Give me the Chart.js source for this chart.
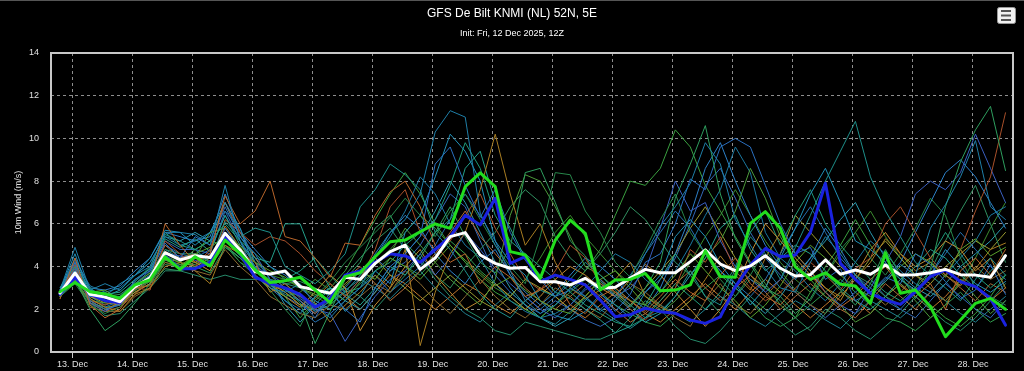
<!DOCTYPE html>
<html>
<head>
<meta charset="utf-8">
<title>GFS De Bilt KNMI (NL) 52N, 5E</title>
<script src="https://cdn.jsdelivr.net/npm/chart.js@4.4.1/dist/chart.umd.min.js"></script>
<style>
  html, body { margin: 0; padding: 0; background: #000; overflow: hidden; }
</style>
</head>
<body>
<canvas id="windChart" width="1024" height="371"></canvas>
<script>
'use strict'

//TEXTS
const titleText = 'GFS De Bilt KNMI (NL) 52N, 5E';
const subtitleText = 'Init: Fri, 12 Dec 2025, 12Z';
const yTitle = '10m Wind (m/s)';

//DAY TICKS (local midnight, 13 Dec .. 28 Dec)
const dayLabels = ['13. Dec', '14. Dec', '15. Dec', '16. Dec', '17. Dec', '18. Dec', '19. Dec', '20. Dec',
                   '21. Dec', '22. Dec', '23. Dec', '24. Dec', '25. Dec', '26. Dec', '27. Dec', '28. Dec'];

//MAIN RUNS, 6-hourly from 12 Dec 18Z
const meanWind = [2.76,3.7,2.7,2.57,2.35,3.06,3.48,4.65, 4.31,4.51,4.42,5.56,4.78,3.76,3.65,3.79,
                  3.06,2.9,2.75,3.5,3.4,4.15,4.7,5.0, 3.87,4.4,5.4,5.59,4.54,4.15,3.92,3.96,
                  3.29,3.29,3.14,3.45,2.98,3.03,3.46,3.87, 3.71,3.71,4.23,4.78,4.12,3.81,4.03,4.51,
                  3.92,3.56,3.62,4.31,3.64,3.84,3.64,4.07, 3.6,3.62,3.71,3.87,3.62,3.6,3.5,4.51];
const operWind = [2.82,3.25,2.82,2.72,2.51,3.14,3.37,4.46, 3.87,4.46,4.03,5.24,4.62,3.84,3.25,3.34,
                  3.5,2.9,2.31,3.53,3.71,4.46,5.16,5.24, 5.63,6.0,5.79,7.74,8.39,7.74,4.7,4.54,
                  3.45,5.24,6.18,5.56,2.9,3.37,3.4,3.68, 2.87,2.9,3.14,4.74,3.53,3.5,6.02,6.57,
                  5.79,3.99,3.4,3.71,3.17,3.09,2.28,4.65, 2.75,2.9,2.12,0.72,1.5,2.28,2.51,2.0];
const ctrlWind = [2.7,3.5,2.7,2.4,2.3,3.1,3.4,4.5, 3.9,3.9,4.2,5.4,4.6,3.5,3.2,3.0,
                  2.7,2.1,2.5,3.6,3.8,4.2,4.6,4.5, 4.2,4.8,5.4,6.4,5.95,7.2,4.15,4.46,
                  3.29,3.6,3.4,3.14,2.43,1.65,1.75,2.05, 1.89,1.81,1.5,1.34,1.65,3.06,4.07,4.85,
                  4.46,4.54,5.6,7.9,4.15,3.4,2.75,2.43, 2.23,2.82,3.53,3.84,3.29,3.06,2.51,1.26];

//ENSEMBLE MEMBERS
const m01 = [2.9,4.9,2.9,3.2,2.9,3.6,4.0,5.6, 5.6,5.5,5.0,7.8,5.2,4.0,3.0,2.8, 3.2,2.2,1.6,2.4,3.0,4.4,5.6,6.2, 7.4,10.3,11.3,11.0,6.5,5.0,3.8,2.4,
             1.8,2.2,3.0,2.6,1.9,2.4,3.2,4.6, 5.9,6.8,7.9,9.8,8.8,6.2,5.0,3.9, 3.0,2.8,4.2,5.4,4.6,3.6,2.8,3.3, 4.1,3.6,5.8,6.9,8.2,9.9,6.8,6.2];
const m02 = [2.6,3.4,2.0,1.0,1.5,2.3,3.2,3.9, 3.8,4.0,3.7,4.9,4.4,3.8,3.3,3.0, 2.3,0.4,1.9,3.4,4.2,5.8,6.4,5.1, 4.4,5.6,6.8,5.4,4.2,3.7,4.9,8.4,
             8.6,7.0,5.2,4.5,3.3,2.7,2.1,3.0, 4.2,7.2,8.8,10.6,7.4,5.3,4.1,3.0, 2.6,1.8,2.5,3.7,2.9,2.2,3.2,4.8, 3.6,2.5,3.9,6.8,8.9,10.4,11.5,8.5];
const m03 = [2.5,4.4,2.2,1.6,2.0,3.0,3.1,6.0, 5.0,4.2,4.6,7.3,6.0,6.6,8.0,5.4, 5.2,4.4,3.5,5.1,5.0,6.4,7.5,8.0, 6.8,5.0,4.2,4.6,3.2,4.0,3.5,2.6,
             2.9,3.4,2.2,1.8,2.6,3.0,2.4,1.9, 2.6,3.4,2.8,2.4,3.6,4.4,3.2,2.6, 2.2,3.0,3.6,2.8,2.1,2.6,3.4,4.0, 3.1,2.6,3.2,2.0,3.8,4.4,3.6,4.8];
const m04 = [2.8,4.2,2.4,2.0,2.2,3.4,3.8,5.1, 4.4,5.4,5.0,6.8,5.4,4.6,3.4,2.9, 2.4,1.6,2.8,2.0,1.4,3.0,4.0,4.6, 5.4,8.8,9.6,7.8,6.3,7.6,5.6,4.3,
             3.4,2.6,2.9,3.5,2.8,1.9,2.7,4.2, 4.6,6.0,8.1,7.6,9.6,10.0,9.6,7.8, 6.0,4.6,4.9,3.4,3.9,2.4,2.8,3.5, 3.2,4.6,4.1,3.3,2.5,2.9,4.1,2.7];
const m05 = [3.0,4.0,3.0,2.5,2.6,3.2,3.6,5.5, 5.2,4.8,4.2,6.1,5.4,5.8,5.6,4.0, 3.6,3.2,3.8,4.6,6.8,7.6,8.8,8.3, 7.6,5.6,4.8,3.8,2.7,2.0,1.6,2.4,
             2.9,2.6,3.4,4.2,3.6,2.9,2.2,1.6, 1.9,2.6,3.8,2.6,2.2,3.9,5.4,4.6, 3.4,4.9,6.4,8.0,9.4,10.8,8.2,6.6, 5.4,4.2,3.6,3.0,2.4,3.4,4.4,3.6];
const m06 = [2.7,3.6,2.8,2.9,2.4,3.2,3.7,4.4, 4.0,4.6,4.9,5.4,5.0,4.2,3.8,3.5, 3.0,2.7,2.4,3.1,3.8,3.4,4.4,4.0, 3.4,4.2,5.0,4.3,3.7,3.1,3.5,2.9,
             2.4,2.0,1.8,2.6,3.4,3.8,3.0,2.2, 2.8,3.6,4.6,3.8,3.0,2.4,1.6,2.2, 3.1,4.2,5.0,4.4,3.6,3.0,2.6,3.3, 4.0,4.6,4.2,3.5,4.8,5.3,4.5,4.9];
const m07 = [2.6,3.5,2.5,2.1,1.9,2.7,3.0,4.0, 4.2,3.8,3.2,5.0,4.6,4.2,2.8,3.2, 2.6,2.3,1.4,2.2,2.8,3.6,3.0,4.8, 0.3,2.8,4.6,5.6,7.6,10.2,7.4,5.0,
             6.0,4.2,3.0,2.5,2.9,3.4,4.2,2.6, 2.1,1.8,2.4,3.4,4.5,3.6,2.9,4.4, 5.6,4.6,3.8,3.0,2.6,3.4,4.2,5.3, 4.6,3.8,4.2,3.6,3.1,3.9,4.8,5.1];
const m08 = [2.9,4.6,2.6,2.6,3.2,3.6,4.4,5.7, 5.6,5.0,5.6,7.0,5.8,3.8,3.2,2.4, 1.8,2.6,3.0,1.9,2.6,3.8,3.2,5.6, 6.4,8.2,10.2,9.4,8.0,5.2,4.2,3.6,
             2.4,1.7,1.5,1.9,2.7,2.2,1.6,2.8, 3.6,5.4,6.2,5.4,4.1,3.2,2.2,3.0, 4.4,5.8,7.4,8.6,7.0,5.2,4.8,4.2, 3.4,2.9,3.6,4.8,4.0,3.2,2.8,3.3];
const m09 = [2.6,3.2,2.2,1.8,2.1,2.9,3.3,4.1, 4.0,3.9,4.3,5.0,4.2,3.6,2.9,2.0, 1.2,2.6,3.3,4.2,4.9,5.6,6.3,7.2, 6.4,5.4,6.6,7.4,6.2,5.0,4.0,3.2,
             5.4,8.4,8.3,6.6,5.6,4.2,3.5,4.8, 6.2,7.4,5.6,4.6,3.4,2.6,3.6,4.8, 3.8,2.9,2.4,3.6,4.8,5.6,4.4,3.6, 4.6,5.8,7.2,6.4,4.4,3.0,2.6,2.2];
const m10 = [2.5,4.1,2.4,2.2,2.5,3.0,2.9,5.2, 4.6,4.0,4.8,7.0,5.6,5.0,5.4,5.2, 4.6,3.8,3.2,2.6,3.4,4.8,6.8,7.6, 5.6,4.8,5.2,6.4,7.4,5.8,4.6,3.4,
             2.9,3.8,5.0,4.4,3.2,2.8,2.0,1.5, 2.2,3.0,4.8,4.2,5.4,3.8,3.0,2.4, 2.8,3.5,4.2,3.6,2.9,3.9,4.4,6.0, 6.8,5.6,4.4,3.6,4.8,6.6,8.2,11.2];
const m11 = [2.7,3.9,2.3,1.9,2.3,3.0,3.6,4.6, 4.5,4.3,4.0,5.8,4.8,4.0,3.6,3.2, 2.5,2.0,1.8,0.5,1.6,2.6,3.4,3.8, 4.6,3.6,4.4,5.6,4.8,3.9,3.2,2.6,
             2.0,1.6,2.2,2.9,3.4,2.6,3.0,3.8, 5.8,8.0,6.6,7.0,5.2,4.0,3.4,2.8, 3.4,4.6,3.8,2.8,2.2,1.8,3.0,4.2, 5.4,7.4,8.0,7.6,8.4,10.2,8.6,7.0];
const m12 = [2.8,3.8,2.9,2.7,2.8,3.4,3.9,5.3, 4.9,5.3,4.7,6.4,5.0,4.4,4.2,6.0, 6.0,4.2,3.0,2.7,2.2,3.0,4.0,3.6, 4.6,5.6,6.2,8.6,9.4,7.0,5.8,4.4,
             3.6,2.8,2.5,2.0,1.5,0.9,1.2,2.2, 3.4,4.6,3.6,4.4,5.8,6.4,4.8,3.8, 4.4,5.0,4.6,3.8,3.0,2.4,2.0,2.6, 3.4,4.0,4.8,4.4,3.6,3.0,3.8,4.4];
const m13 = [2.6,3.3,2.4,2.3,2.6,3.1,3.4,4.3, 4.1,4.4,5.6,5.8,4.9,3.9,3.2,2.6, 2.8,3.4,2.9,2.4,3.3,4.1,4.6,5.8, 5.0,4.2,3.4,2.8,2.2,3.4,6.4,8.3,
             8.0,6.8,5.4,4.0,3.6,3.0,2.4,2.2, 1.8,2.4,3.2,4.4,5.2,6.6,8.6,7.2, 5.4,4.2,3.4,2.6,2.2,1.4,1.8,2.6, 3.2,2.4,1.6,2.2,3.4,2.6,1.8,2.4];
const m14 = [2.7,3.7,2.6,2.4,2.2,2.8,3.2,4.6, 4.4,4.2,3.8,5.4,4.8,3.6,3.0,2.6, 2.1,2.8,3.6,3.0,1.0,2.2,3.0,4.0, 4.8,3.6,2.8,2.0,2.4,3.2,2.6,2.0,
             2.6,3.4,4.0,3.6,3.0,2.6,3.4,4.1, 3.6,2.8,2.0,1.2,2.0,3.0,4.6,6.0, 5.2,4.4,3.6,3.0,2.4,3.6,4.8,5.6, 4.6,4.0,4.4,5.2,4.8,3.8,4.4,3.0];
const m15 = [3.0,4.3,3.1,2.8,3.0,3.6,4.2,5.4, 5.0,5.2,5.6,6.6,5.8,4.2,3.6,3.0, 2.6,1.9,2.4,2.8,3.6,4.4,5.4,6.6, 8.2,7.4,6.0,5.0,4.4,3.2,2.4,1.9,
             1.6,1.8,2.2,3.0,3.8,4.6,4.2,3.4, 2.8,3.8,5.0,6.4,7.6,9.6,8.4,5.6, 4.4,3.8,3.0,2.4,3.2,4.2,5.2,4.6, 3.8,3.2,2.8,3.6,4.4,5.2,6.4,6.8];
const m16 = [2.7,3.6,2.7,2.6,2.7,3.2,3.7,4.8, 4.6,4.6,4.2,5.0,4.4,3.8,3.4,3.2, 3.3,3.0,2.6,3.6,4.4,5.2,5.8,4.8, 4.2,3.6,3.0,4.0,4.8,5.6,6.8,7.6,
             7.0,5.4,4.4,3.8,4.6,5.6,6.8,6.2, 5.2,4.2,3.6,2.6,1.8,2.6,3.4,3.0, 2.4,1.6,1.0,1.8,2.8,3.6,3.2,2.6, 2.2,3.0,3.8,5.2,6.6,7.8,6.0,4.2];
const m17 = [2.6,3.4,2.1,1.9,1.9,2.6,3.0,4.2, 4.0,3.8,3.6,4.8,4.0,3.4,2.6,2.2, 1.8,1.6,2.2,2.0,2.6,3.2,2.8,3.8, 3.2,2.4,1.8,2.6,3.4,2.6,2.0,1.6,
             2.2,3.0,2.6,2.0,1.6,2.4,3.2,2.8, 2.2,1.6,1.2,2.4,3.2,2.2,1.8,2.6, 3.4,2.8,2.2,1.8,2.6,3.4,2.8,2.2, 2.8,3.6,3.0,2.4,3.2,4.0,3.4,3.8];
const m18 = [2.8,4.4,3.0,2.9,3.1,3.8,4.4,5.6, 5.4,5.2,5.4,7.4,5.6,4.8,4.0,3.6, 3.0,2.4,2.0,2.6,3.4,4.6,5.6,6.4, 5.8,4.6,3.8,3.2,4.2,4.8,3.6,2.8,
             2.2,2.8,3.6,4.4,4.0,3.4,2.6,2.0, 3.0,4.6,6.4,8.6,9.8,8.0,6.4,5.0, 4.0,3.4,4.4,5.8,4.8,3.6,2.8,3.4, 4.2,5.6,7.0,8.4,9.0,8.2,7.0,5.8];
const m19 = [2.9,4.0,2.8,2.4,2.5,3.3,4.0,5.6, 5.0,4.8,5.2,6.0,5.2,4.6,4.0,3.4, 3.8,4.4,3.6,2.8,3.0,3.8,4.2,5.0, 5.6,6.2,7.8,9.8,8.6,6.4,5.2,4.6,
             4.0,3.4,2.8,2.2,1.8,1.4,1.2,1.6, 2.4,3.2,2.6,2.0,2.8,4.0,5.6,6.6, 5.0,6.4,7.6,6.0,5.0,4.2,3.4,2.8, 2.4,3.0,4.4,5.6,4.6,3.6,3.0,3.6];
const m20 = [2.6,3.5,2.6,2.8,2.4,3.0,3.5,4.5, 4.2,4.8,5.2,5.0,4.4,3.6,3.0,2.6, 1.6,2.4,3.0,3.8,5.0,6.2,7.4,8.4, 7.4,6.0,5.0,4.2,3.4,2.8,2.4,2.0,
             1.6,2.2,3.0,3.8,4.8,6.4,8.0,7.8, 8.6,10.4,9.6,7.8,6.6,5.4,4.2,3.2, 2.2,1.6,2.8,4.0,5.0,6.2,5.0,4.0, 3.4,2.8,2.2,1.6,1.2,1.8,2.6,3.6];
const m21 = [2.6,4.0,2.3,1.9,2.1,2.7,3.4,5.0, 4.4,4.6,4.0,6.2,5.6,4.4,3.6,3.0, 2.4,1.8,2.6,3.4,4.0,3.2,2.4,3.0, 3.8,4.6,5.6,6.6,5.4,4.6,3.8,3.0,
             2.4,2.0,2.6,3.2,2.6,2.0,1.4,1.8, 2.4,3.2,3.8,3.0,2.4,3.0,3.6,2.8, 2.0,2.6,3.2,2.6,2.0,1.6,2.4,3.2, 2.6,2.0,2.8,3.6,3.0,2.4,3.2,2.8];
const m22 = [2.8,4.0,2.5,2.1,2.4,3.2,3.8,5.0, 4.6,4.4,4.8,6.4,5.2,3.6,3.0,2.4, 2.0,1.4,1.8,2.4,3.0,3.6,2.8,3.4, 4.0,5.0,6.2,7.4,6.4,5.2,3.6,2.6,
             2.0,2.6,3.2,2.6,2.0,2.6,3.6,4.6, 5.6,6.6,5.8,4.6,3.8,3.2,2.6,3.4, 4.6,5.8,6.8,5.6,4.4,3.6,3.0,2.4, 2.0,2.8,3.6,4.6,5.6,4.8,4.0,3.4];
const m23 = [2.7,3.5,2.3,1.7,1.8,2.4,3.0,3.8, 3.8,3.6,3.4,3.6,3.4,3.4,3.4,3.2, 3.0,2.9,2.8,3.0,2.6,2.0,2.8,3.6, 4.4,3.4,2.6,2.0,1.6,1.0,0.8,1.4,
             1.2,1.0,0.8,0.6,0.6,0.9,1.6,2.4, 2.0,1.2,0.6,0.4,1.0,1.8,2.6,2.0, 1.4,0.8,1.2,2.0,1.6,1.0,0.6,1.2, 1.8,2.6,2.0,1.4,1.0,1.6,2.4,3.2];
const m24 = [2.7,3.6,2.6,2.3,2.2,2.9,3.3,4.4, 4.2,4.0,4.4,5.2,4.6,3.8,3.2,2.8, 2.2,2.0,2.6,3.2,3.8,4.4,3.6,3.0, 2.4,3.0,3.6,3.0,2.4,2.0,2.6,3.4,
             3.0,2.6,2.0,2.6,3.4,2.8,2.2,3.0, 3.8,4.6,5.8,6.8,5.6,4.4,3.6,3.0, 4.6,6.4,5.6,4.8,4.0,3.4,4.4,5.2, 4.4,3.6,3.2,4.0,4.6,5.2,4.8,5.6];
const m25 = [2.9,4.2,2.9,2.6,2.9,3.6,4.2,5.4, 5.2,5.6,5.2,7.0,5.4,4.4,3.4,2.2, 1.4,2.2,3.0,2.4,2.0,2.8,3.8,4.6, 5.4,6.6,8.0,7.0,5.6,4.2,3.0,2.2,
             1.6,1.2,1.6,2.4,3.2,2.6,2.0,1.4, 1.8,2.6,3.6,4.6,3.8,3.0,2.4,1.8, 2.6,3.6,4.4,5.2,6.2,7.0,5.6,4.4, 3.6,3.0,2.6,3.2,4.0,4.6,5.2,6.0];
const m26 = [2.6,3.4,2.3,2.0,2.2,2.8,3.2,4.2, 4.0,4.2,4.0,5.0,4.2,3.8,3.6,3.4, 3.0,2.6,2.2,2.8,3.6,4.2,4.8,5.6, 6.4,5.8,5.0,4.2,3.6,3.0,2.6,3.4,
             4.4,5.6,6.4,5.4,4.6,3.8,3.2,2.6, 2.2,3.0,4.2,5.4,6.4,7.6,6.4,5.2, 4.2,3.4,2.8,3.6,4.6,5.6,6.6,5.4, 4.4,3.6,3.0,2.4,3.2,4.4,5.8,7.0];
const m27 = [2.8,3.8,2.6,2.2,2.4,3.0,3.5,4.8, 4.4,4.6,4.4,5.6,4.6,3.9,3.1,2.7, 2.4,1.9,2.2,2.9,3.4,3.0,2.5,3.2, 3.8,3.0,2.4,1.8,1.4,2.2,2.8,2.2,
             1.6,1.3,1.9,2.5,2.0,1.5,1.1,1.6, 2.2,1.8,1.4,2.0,2.6,2.2,1.6,1.2, 1.8,2.4,2.0,1.5,1.1,1.8,2.4,2.0, 1.6,2.2,2.8,2.4,1.8,1.4,2.0,2.6];
const m28 = [2.7,3.9,2.4,2.0,2.3,2.9,3.4,4.7, 4.3,4.4,4.1,5.9,4.9,4.0,3.3,2.8, 2.2,2.5,3.2,2.6,2.0,2.8,3.6,3.2, 2.6,2.0,2.6,3.2,2.8,2.2,1.8,2.4,
             3.0,2.6,2.0,1.6,2.2,2.8,2.4,1.8, 1.4,2.0,2.6,3.2,2.6,2.0,2.8,3.4, 2.8,2.2,1.6,2.2,2.8,2.4,1.8,2.6, 3.2,2.6,2.0,2.6,3.4,3.0,2.4,3.0];
const m29 = [2.8,4.1,2.7,2.4,2.6,3.3,3.9,5.2, 4.8,4.8,4.6,6.6,5.2,4.2,3.2,2.6, 2.2,1.8,2.4,3.0,3.8,4.4,3.8,4.2, 5.0,6.2,7.4,6.8,5.2,3.6,2.8,2.2,
             1.8,2.4,2.0,1.5,1.2,1.6,2.2,2.8, 3.4,4.4,6.0,7.8,8.6,7.2,5.6,4.4, 3.6,2.8,2.2,1.6,2.2,2.8,3.4,2.6, 2.0,1.6,2.4,3.2,2.6,2.0,1.6,2.4];
const m30 = [2.6,3.3,2.3,2.1,2.2,2.8,3.2,4.3, 4.1,4.1,4.5,5.2,4.5,3.9,3.3,2.9, 2.6,2.2,2.0,2.6,3.2,3.8,4.4,4.0, 3.6,4.4,5.2,4.6,3.8,3.2,2.6,2.0,
             1.6,2.2,2.8,3.4,2.8,2.2,1.8,1.4, 1.2,1.8,2.4,3.0,3.6,3.0,2.4,1.6, 1.2,1.6,2.2,2.8,3.4,2.8,2.2,1.6, 1.4,1.0,1.6,2.2,2.8,2.0,1.4,1.8];

const members = [m01, m02, m03, m04, m05, m06, m07, m08, m09, m10, m11, m12, m13, m14, m15,
                 m16, m17, m18, m19, m20, m21, m22, m23, m24, m25, m26, m27, m28, m29, m30];
const memberColors = ['#1f7fa8', '#2e9e5e', '#b8652a', '#2a6fbf', '#1e8f8a', '#5aa02c', '#a87d22',
                      '#2090b8', '#27864a', '#a8502a', '#3a5fc0', '#23a08c', '#4c9a3a', '#c08a30',
                      '#1b78a0', '#309060', '#8a6a30', '#2d80c8', '#1f9a7a', '#3aa040', '#b06a38',
                      '#2470b0', '#268a6a', '#9a9a30', '#2a9ab0', '#3c8c30', '#20808f', '#c0782c',
                      '#3368b8', '#2f9a4c'];

//x is hours since init (12 Dec 12Z), first value at +6h
function toPoints(values){
  return values.map(function(v, i){ return {x: (i + 1) * 6, y: v}; });
}

//day ticks sit at local midnight = 23Z, i.e. +11h, +35h ...
const dayTicks = dayLabels.map(function(lbl, k){ return 11 + 24 * k; });

//BUILD DATASETS
let datasets = [];
datasets.push({ label: 'GFS', data: toPoints(operWind), borderColor: '#22dd1e', borderWidth: 3, order: 0 });
datasets.push({ label: 'Mean', data: toPoints(meanWind), borderColor: '#ffffff', borderWidth: 3, order: 1 });
datasets.push({ label: 'Control', data: toPoints(ctrlWind), borderColor: '#1a22e0', borderWidth: 3, order: 2 });
members.forEach(function(m, i){
  datasets.push({ label: 'P' + (i + 1), data: toPoints(m), borderColor: memberColors[i], borderWidth: 1, order: 3 });
});

const fontFam = "'Liberation Sans', Arial, sans-serif";
const gridCol = 'rgba(190,190,190,0.75)';

//title, frame and menu button
const decorPlugin = {
  id: 'decor',
  afterDatasetsDraw: function(chart){
    const ctx = chart.ctx;
    const a = chart.chartArea;
    ctx.save();
    ctx.strokeStyle = '#c8c8c8';
    ctx.lineWidth = 2;
    ctx.strokeRect(a.left, a.top, a.right - a.left, a.bottom - a.top);
    ctx.restore();
  },
  afterDraw: function(chart){
    const ctx = chart.ctx;
    ctx.save();
    ctx.fillStyle = '#ffffff';
    ctx.textAlign = 'center';
    ctx.textBaseline = 'middle';
    ctx.font = '12px ' + fontFam;
    ctx.fillText(titleText, 512, 14);
    ctx.font = '9px ' + fontFam;
    ctx.fillText(subtitleText, 512, 34);

    //menu button
    ctx.fillStyle = '#f2f2f2';
    ctx.strokeStyle = '#999';
    ctx.lineWidth = 1;
    ctx.beginPath();
    ctx.roundRect(997.5, 7.5, 18, 16, 2);
    ctx.fill();
    ctx.stroke();
    ctx.fillStyle = '#555';
    ctx.fillRect(1001, 10, 10, 2);
    ctx.fillRect(1001, 14.5, 10, 2);
    ctx.fillRect(1001, 19, 10, 2);

    //faint outer top edge
    ctx.fillStyle = '#555';
    ctx.fillRect(0, 0, 1024, 1);
    ctx.restore();
  }
};

//BUILD CHART
const ctx = document.getElementById('windChart').getContext('2d');
const windChart = new Chart(ctx, {
  type: 'line',
  data: { datasets: datasets },
  options: {
    responsive: false,
    animation: false,
    events: [],
    layout: { padding: { top: 53, right: 11, bottom: 0, left: 0 } },
    elements: {
      point: { radius: 0 },
      line: { tension: 0, borderJoinStyle: 'round', borderCapStyle: 'round' }
    },
    plugins: {
      legend: { display: false },
      tooltip: { enabled: false },
      title: { display: false }
    },
    scales: {
      x: {
        type: 'linear',
        min: 2.4,
        max: 387,
        bounds: 'data',
        afterBuildTicks: function(scale){
          scale.ticks = dayTicks.map(function(v){ return {value: v}; });
        },
        afterFit: function(scale){ scale.height = 19; },
        ticks: {
          color: '#e0e0e0',
          font: { family: fontFam, size: 9 },
          padding: 1,
          maxRotation: 0,
          autoSkip: false,
          callback: function(value){
            const k = dayTicks.indexOf(value);
            return k >= 0 ? dayLabels[k] : '';
          }
        },
        grid: {
          color: gridCol,
          lineWidth: 1,
          drawTicks: true,
          tickLength: 6,
          tickColor: '#c8c8c8',
          tickWidth: 1
        },
        border: { display: false, dash: [3, 3] }
      },
      y: {
        min: 0,
        max: 14,
        afterFit: function(scale){ scale.width = 51; },
        ticks: {
          stepSize: 2,
          color: '#e0e0e0',
          font: { family: fontFam, size: 9 },
          padding: 12
        },
        grid: {
          color: gridCol,
          lineWidth: 1,
          drawTicks: false
        },
        border: { display: false, dash: [3, 3] },
        title: {
          display: true,
          text: yTitle,
          color: '#e0e0e0',
          font: { family: fontFam, size: 9 },
          padding: { top: 13, bottom: 0 }
        }
      }
    }
  },
  plugins: [decorPlugin]
});//end chart
</script>
</body>
</html>
